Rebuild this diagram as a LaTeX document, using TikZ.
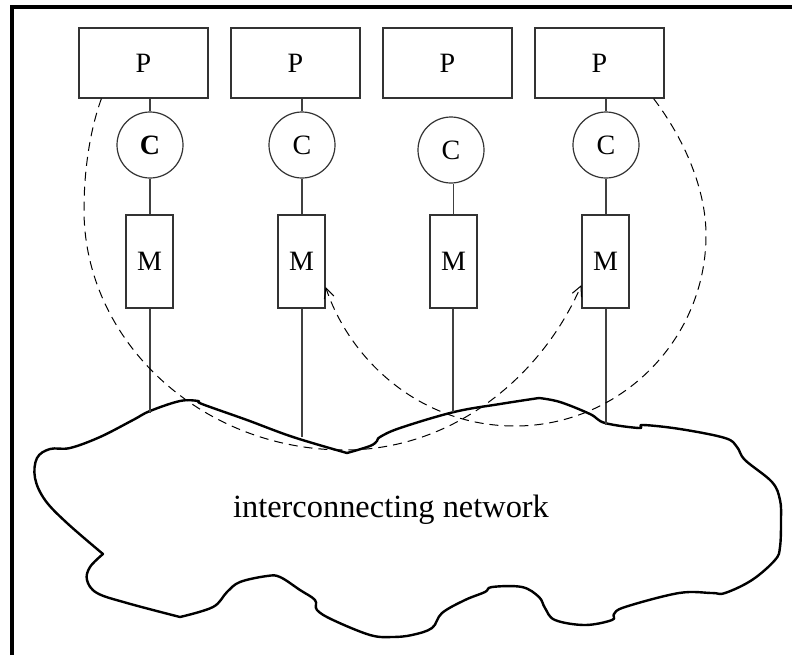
\documentclass[tikz,border=0pt]{standalone}
\usepackage{fontspec}
\setmainfont{Liberation Serif}
\usetikzlibrary{arrows.meta}

\begin{document}
\begin{tikzpicture}[x=0.5pt,y=-0.5pt,
    proc/.style={draw=black!80,line width=0.6pt,minimum width=64.5pt,minimum height=35pt,inner sep=0pt,font=\fontsize{14}{16}\selectfont},
    cache/.style={draw=black!80,circle,line width=0.6pt,minimum size=33pt,inner sep=0pt,font=\fontsize{14}{16}\selectfont},
    mem/.style={draw=black!80,line width=0.6pt,minimum width=23.5pt,minimum height=46.5pt,inner sep=0pt,font=\fontsize{14}{16}\selectfont},
    link/.style={draw=black!75,line width=0.6pt},
    remote/.style={dashed,dash pattern=on 4.5pt off 3pt,line width=0.5pt,-{Straight Barb[length=5pt,width=5pt]}},
    cloudline/.style={line width=1.2pt,line join=round}]
  \useasboundingbox (0,0) rectangle (792,655);

  % Frame
  \draw[line width=2pt] (12,655) -- (12,7) -- (792,7);

  % Processors
  \node[proc] (p1) at (143.5,63) {P};
  \node[proc] (p2) at (295.5,63) {P};
  \node[proc] (p3) at (447.5,63) {P};
  \node[proc] (p4) at (599.5,63) {P};

  % Caches
  \node[cache] (c1) at (150,145) {\textbf{C}};
  \node[cache] (c2) at (302,145) {C};
  \node[cache] (c3) at (451,150) {C};
  \node[cache] (c4) at (606,145) {C};

  % Memories
  \node[mem] (m1) at (149.5,261.5) {M};
  \node[mem] (m2) at (301.5,261.5) {M};
  \node[mem] (m3) at (453.5,261.5) {M};
  \node[mem] (m4) at (605.5,261.5) {M};

  % Where the lines meet the network
  \coordinate (n1) at (150,413);
  \coordinate (n2) at (302,437);
  \coordinate (n3) at (453,412);
  \coordinate (n4) at (606,425);

  % Interconnecting network
  \draw[cloudline]
    plot[smooth,tension=0.6] coordinates {(347,453) (370,446) (377,441) (380,437) (400,428) (454,412) (500,404) (539,398)}
    -- plot[smooth,tension=0.6] coordinates {(539,398) (560,402) (590,414) (605,423) (639,428) (643,425) (680,429) (725,438) (737,447) (745,460) (772,482) (780,500) (781,520) (780,547) (775,560) (752,580) (725,593) (712,593) (679,593) (625,607) (614,614) (612,620) (585,625) (555,620) (545,608) (539,597) (522,587) (492,587) (485,592) (465,600) (442,613) (432,628) (412,635) (392,637) (370,635) (333,620) (317,610) (315,600) (300,590) (280,577) (267,576) (240,582) (227,592) (213,607) (180,617)}
    -- plot[smooth,tension=0.6] coordinates {(180,617) (127,603) (97,593) (87,580) (90,567) (103,554)}
    -- plot[smooth,tension=0.6] coordinates {(103,554) (67,523) (45,500) (35,478) (37,458) (50,449) (70,448) (100,437) (133,420) (150,411) (180,401) (198,401) (202,404) (247,420) (293,437) (347,453)}
    -- cycle;
  \node[font=\fontsize{16.2}{19}\selectfont] (net) at (391,510) {interconnecting network};

  % Links
  \draw[link] (p1.south -| c1) -- (c1.north);
  \draw[link] (p2.south -| c2) -- (c2.north);
  \draw[link] (p3.south -| m3) -- (p3.south -| m3 |- c3.north);
  \draw[link] (p4.south -| c4) -- (c4.north);
  \draw[link] (c1.south) -- (m1.north -| c1);
  \draw[link] (c2.south) -- (m2.north -| c2);
  \draw[link] (c3.south -| m3) -- (m3.north);
  \draw[link] (c4.south) -- (m4.north -| c4);
  \draw[link] (m1.south -| n1) -- (n1);
  \draw[link] (m2.south -| n2) -- (n2);
  \draw[link] (m3.south -| n3) -- (n3);
  \draw[link] (m4.south -| n4) -- (n4);

  % Remote accesses
  \draw[remote] ([xshift=11.5pt]p1.south west) .. controls (90,130) and (84,170) .. (84,210)
    .. controls (84,340) and (200,450) .. (345,450)
    .. controls (450,450) and (540,380) .. ([yshift=-11.75pt]m4.west);
  \draw[remote] ([xshift=-5.5pt]p4.south east) .. controls (685,140) and (706,190) .. (706,235)
    .. controls (706,340) and (620,426) .. (515,426)
    .. controls (420,426) and (350,360) .. ([yshift=-12.75pt]m2.east);
\end{tikzpicture}
\end{document}
